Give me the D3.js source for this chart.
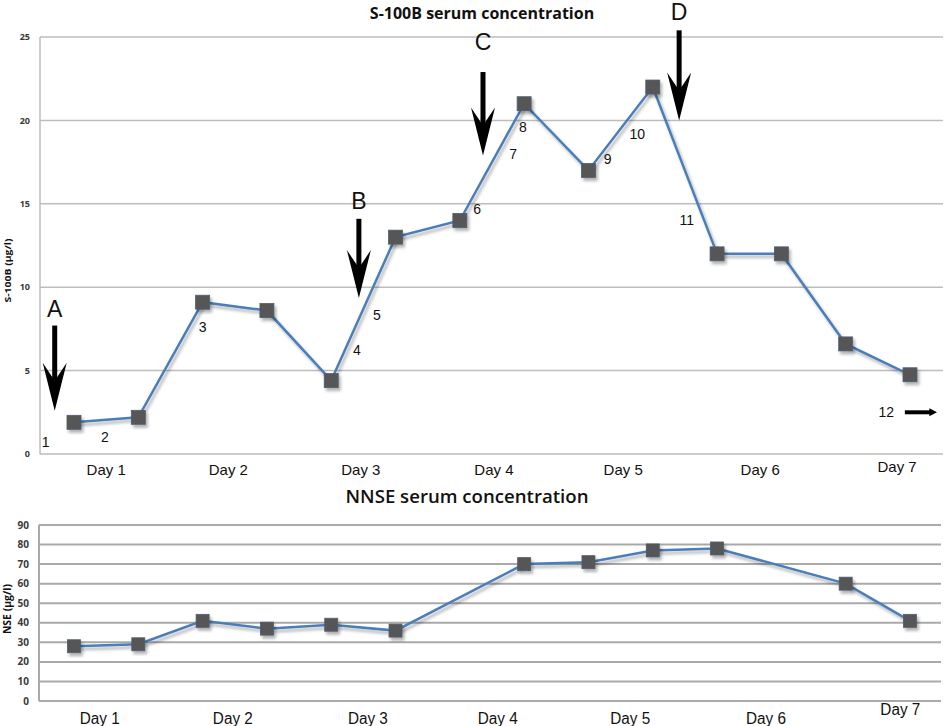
<!DOCTYPE html>
<html>
<head>
<meta charset="utf-8">
<script src="https://cdn.jsdelivr.net/npm/d3@7"></script>
<style>
    body { margin: 0; background: #fff; }
    svg { display: block; }
    .tick-label { font-family: "Open Sans", sans-serif; font-weight: 700; fill: #3a3a3a; }
    .day-label { font-family: "Liberation Sans", Arial, sans-serif; font-size: 15px; fill: #111; }
    .note { font-family: "Liberation Sans", Arial, sans-serif; fill: #111; }
</style>
</head>
<body>
<script>
// sample points, in time order (14 samples over 7 days)
const samples = d3.range(14);
const s100bValues = [1.9, 2.2, 9.1, 8.6, 4.4, 13, 14, 21, 17, 22, 12, 12, 6.6, 4.75];
const nseValues = [28, 29, 41, 37, 39, 36, null, 70, 71, 77, 78, null, 60, 41];

// day labels and where they sit along the sample axis
const dayLabels = ["Day 1", "Day 2", "Day 3", "Day 4", "Day 5", "Day 6", "Day 7"];
const dayPosTop = [0.5, 2.4, 4.46, 6.53, 8.54, 10.67, 12.8];
const dayPosBottom = [0.4, 2.47, 4.57, 6.59, 8.65, 10.76, 12.85];

const s100bTicks = [0, 5, 10, 15, 20, 25];
const nseTicks = [0, 10, 20, 30, 40, 50, 60, 70, 80, 90];

// numbered notes on the S-100B chart: [text, sample position, value]
const sampleNotes = [
    ["1", -0.44, 0.72], ["2", 0.48, 1.0], ["3", 2.0, 7.6], ["4", 4.4, 6.2],
    ["5", 4.71, 8.3], ["6", 6.27, 14.7], ["7", 6.83, 18.0], ["8", 6.98, 19.6],
    ["9", 8.3, 17.7], ["10", 8.76, 19.2], ["11", 9.53, 14.0], ["12", 12.63, 2.5]
];
// event arrows: [letter, position, letter value, shaft top, tip]
const eventArrows = [
    ["A", -0.3, 8.7, 7.7, 2.6],
    ["B", 4.43, 15.2, 14.1, 9.35],
    ["C", 6.36, 24.7, 22.9, 17.9],
    ["D", 9.41, 26.5, 25.4, 20.0]
];

const WIDTH = 945;
const HEIGHT = 726;

const svg = d3.select("body").append("svg")
    .attr("width", WIDTH)
    .attr("height", HEIGHT);

const defs = svg.append("defs");
defs.append("filter")
    .attr("id", "shadow")
    .attr("x", "-20%").attr("y", "-20%")
    .attr("width", "160%").attr("height", "160%")
    .append("feDropShadow")
    .attr("dx", 2).attr("dy", 3)
    .attr("stdDeviation", 1.5)
    .attr("flood-color", "#000")
    .attr("flood-opacity", 0.3);

const x = d3.scalePoint()
    .domain(samples)
    .range([74, 910]);
// continuous version of the same axis, used for labels and notes
const xc = d3.scaleLinear()
    .domain([0, 13])
    .range([74, 910]);

function drawPanel(g, { yScale, ticks, left, right, gridColor, gridWidth, tickSize, values, marker }) {
    g.append("g")
        .selectAll("line")
        .data(ticks)
        .join("line")
        .attr("x1", left)
        .attr("x2", right)
        .attr("y1", d => yScale(d))
        .attr("y2", d => yScale(d))
        .attr("stroke", gridColor)
        .attr("stroke-width", gridWidth);

    g.append("line")
        .attr("x1", left).attr("x2", left)
        .attr("y1", yScale(ticks[ticks.length - 1]))
        .attr("y2", yScale(0))
        .attr("stroke", gridColor)
        .attr("stroke-width", gridWidth);

    g.append("g")
        .selectAll("text")
        .data(ticks)
        .join("text")
        .attr("class", "tick-label")
        .attr("x", left - 10)
        .attr("y", d => yScale(d))
        .attr("dy", "0.35em")
        .attr("text-anchor", "end")
        .style("font-size", tickSize + "px")
        .text(d => d);

    const pts = samples
        .map(i => ({ i, v: values[i] }))
        .filter(d => d.v != null);

    const line = d3.line()
        .x(d => x(d.i))
        .y(d => yScale(d.v));

    g.append("path")
        .datum(pts)
        .attr("d", line)
        .attr("fill", "none")
        .attr("stroke", "#4a7ebb")
        .attr("stroke-width", 2.5)
        .attr("filter", "url(#shadow)");

    g.append("g")
        .selectAll("rect")
        .data(pts)
        .join("rect")
        .attr("x", d => x(d.i) - marker / 2)
        .attr("y", d => yScale(d.v) - marker / 2)
        .attr("width", marker)
        .attr("height", marker)
        .attr("fill", "#575757")
        .attr("stroke", "#4d5e72")
        .attr("stroke-width", 0.8)
        .attr("filter", "url(#shadow)");
}

// ---- S-100B panel ----
const yTop = d3.scaleLinear().domain([0, 25]).range([454, 37]);
const topPanel = svg.append("g");

drawPanel(topPanel, {
    yScale: yTop, ticks: s100bTicks, left: 40, right: 943,
    gridColor: "#bdbdbd", gridWidth: 1.5, tickSize: 9,
    values: s100bValues, marker: 14
});

topPanel.append("text")
    .attr("x", 482).attr("y", 19)
    .attr("text-anchor", "middle")
    .style("font-family", "'Open Sans', sans-serif")
    .style("font-weight", 700)
    .style("font-size", "16px")
    .attr("fill", "#111")
    .text("S-100B serum concentration");

topPanel.append("text")
    .attr("transform", `translate(11, ${ yTop(11) }) rotate(-90)`)
    .attr("text-anchor", "middle")
    .style("font-family", "'Open Sans', sans-serif")
    .style("font-weight", 700)
    .style("font-size", "9px")
    .attr("textLength", 64)
    .attr("lengthAdjust", "spacingAndGlyphs")
    .attr("fill", "#111")
    .text("S-100B (µg/l)");

topPanel.append("g")
    .selectAll("text")
    .data(dayLabels)
    .join("text")
    .attr("class", "day-label")
    .attr("x", (d, i) => xc(dayPosTop[i]))
    .attr("y", (d, i) => i === 6 ? 472 : 475)
    .attr("text-anchor", "middle")
    .text(d => d);

topPanel.append("g")
    .selectAll("text")
    .data(sampleNotes)
    .join("text")
    .attr("class", "note")
    .attr("x", d => xc(d[1]))
    .attr("y", d => yTop(d[2]))
    .attr("dy", "0.35em")
    .attr("text-anchor", "middle")
    .style("font-size", "14px")
    .text(d => d[0]);

const arrowGroup = topPanel.append("g")
    .selectAll("g")
    .data(eventArrows)
    .join("g");

arrowGroup.append("text")
    .attr("class", "note")
    .attr("x", d => xc(d[1]))
    .attr("y", d => yTop(d[2]))
    .attr("dy", "0.35em")
    .attr("text-anchor", "middle")
    .style("font-size", "23px")
    .text(d => d[0]);

arrowGroup.append("line")
    .attr("x1", d => xc(d[1]))
    .attr("x2", d => xc(d[1]))
    .attr("y1", d => yTop(d[3]))
    .attr("y2", d => yTop(d[4]) - 30)
    .attr("stroke", "#000")
    .attr("stroke-width", 5);

arrowGroup.append("path")
    .attr("d", d => {
        const cx = xc(d[1]);
        const tip = yTop(d[4]);
        return `M${ cx - 12 },${ tip - 48 } L${ cx },${ tip - 30 } L${ cx + 12 },${ tip - 48 } L${ cx },${ tip } Z`;
    })
    .attr("fill", "#000");

// small arrow after note 12
const arrowY = yTop(2.5);
topPanel.append("line")
    .attr("x1", xc(12.92)).attr("x2", xc(13.35))
    .attr("y1", arrowY).attr("y2", arrowY)
    .attr("stroke", "#000")
    .attr("stroke-width", 4);
topPanel.append("path")
    .attr("d", `M${ xc(13.3) },${ arrowY - 4 } L${ xc(13.42) },${ arrowY } L${ xc(13.3) },${ arrowY + 4 } Z`)
    .attr("fill", "#000");

// ---- NSE panel ----
const yBottom = d3.scaleLinear().domain([0, 90]).range([701, 525]);
const bottomPanel = svg.append("g");

drawPanel(bottomPanel, {
    yScale: yBottom, ticks: nseTicks, left: 39, right: 941,
    gridColor: "#a9a9a9", gridWidth: 2, tickSize: 10,
    values: nseValues, marker: 13
});

bottomPanel.append("text")
    .attr("x", 467).attr("y", 503)
    .attr("text-anchor", "middle")
    .style("font-family", "'Open Sans', sans-serif")
    .style("font-weight", 600)
    .style("font-size", "18px")
    .attr("textLength", 243)
    .attr("lengthAdjust", "spacingAndGlyphs")
    .attr("fill", "#111")
    .text("NNSE serum concentration");

bottomPanel.append("text")
    .attr("transform", `translate(11, ${ yBottom(47) }) rotate(-90)`)
    .attr("text-anchor", "middle")
    .style("font-family", "'Open Sans', sans-serif")
    .style("font-weight", 700)
    .style("font-size", "10px")
    .attr("textLength", 50)
    .attr("lengthAdjust", "spacingAndGlyphs")
    .attr("fill", "#111")
    .text("NSE (µg/l)");

bottomPanel.append("g")
    .selectAll("text")
    .data(dayLabels)
    .join("text")
    .attr("class", "day-label")
    .attr("x", (d, i) => xc(dayPosBottom[i]))
    .attr("y", (d, i) => i === 6 ? 715 : 724)
    .attr("text-anchor", "middle")
    .attr("textLength", 40)
    .attr("lengthAdjust", "spacingAndGlyphs")
    .style("font-size", "16px")
    .text(d => d);
</script>
</body>
</html>
